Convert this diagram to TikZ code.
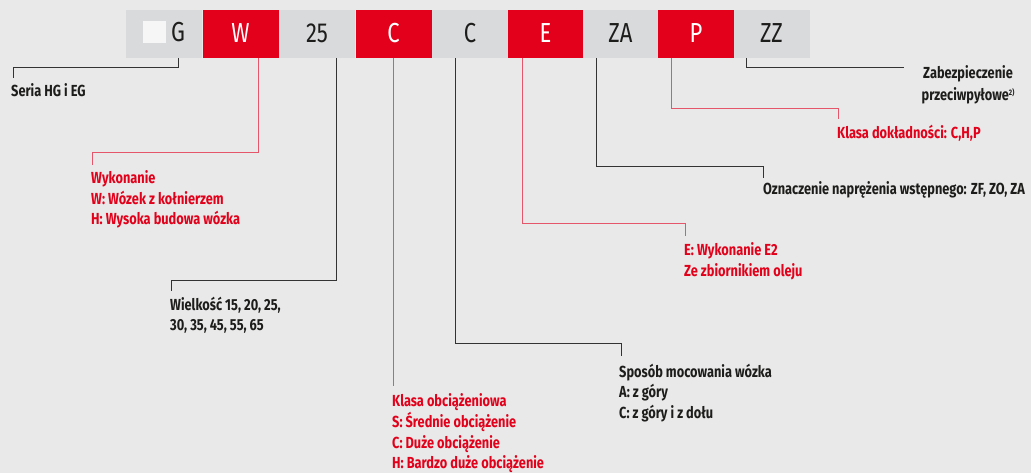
\documentclass[tikz,border=0pt]{standalone}
\usepackage{fontspec}
\setmainfont[FakeStretch=0.8]{Fira Sans}
\usetikzlibrary{calc}
\definecolor{bgc}{HTML}{E8E9E8}
\definecolor{boxgrey}{HTML}{D9DADC}
\definecolor{dinred}{HTML}{E2001A}
\definecolor{linered}{HTML}{E5566A}
\definecolor{txtblack}{HTML}{1D1D1B}
\definecolor{lineblack}{HTML}{333333}
\tikzset{
  codebox/.style={rectangle, inner sep=0pt, minimum width=76pt, minimum height=48pt,
    font=\fontsize{27.5}{30}\selectfont, text height=19pt, text depth=2.4pt},
  greybox/.style={codebox, fill=boxgrey, text=txtblack},
  redbox/.style={codebox, fill=dinred, text=white},
  lab/.style={inner sep=0pt, anchor=base west, font=\fontsize{16}{20.5}\selectfont\bfseries},
  blklab/.style={lab, text=txtblack},
  redlab/.style={lab, text=dinred},
  blkline/.style={draw=lineblack, line width=1pt},
  redline/.style={draw=linered, line width=1pt},
}
\newcommand{\rows}[1]{\begin{tabular}[t]{@{}l@{}}#1\end{tabular}}
\begin{document}
\begin{tikzpicture}[x=1pt,y=-1pt]
\fill[bgc] (0,0) rectangle (1031,473);
\useasboundingbox (0,0) rectangle (1031,473);
% code boxes
\node[greybox] (bG)  at (164,34)   {};
\node[redbox]  (bW)  at (240.5,34) {W};
\node[greybox] (b25) at (317,34)   {25};
\node[redbox]  (bCr) at (393.5,34) {C};
\node[greybox] (bCg) at (470,34)   {C};
\node[redbox]  (bE)  at (545.5,34) {E};
\node[greybox] (bZA) at (620.5,34) {ZA};
\node[redbox]  (bP)  at (696,34)   {P};
\node[greybox] (bZZ) at (771.5,34) {ZZ};
\node[rectangle, fill=white!60!bgc, inner sep=0pt, minimum width=23pt, minimum height=22pt] (sq) at (154.5,32) {};
\node[codebox, minimum width=0pt, minimum height=0pt, text=txtblack] (tG) at (178,33) {G};
% labels
\node[blklab] (seria) at (11,97) {\rows{Seria HG i EG}};
\node[redlab] (wyk) at (91,184) {\rows{Wykonanie\\W: Wózek z kołnierzem\\H: Wysoka budowa wózka}};
\node[blklab] (wiel) at (170,310) {\rows{Wielkość 15, 20, 25,\\30, 35, 45, 55, 65}};
\node[redlab] (klob) at (392,406.5) {\rows{Klasa obciążeniowa\\S: Średnie obciążenie\\C: Duże obciążenie\\H: Bardzo duże obciążenie}};
\node[blklab] (spos) at (619,377) {\rows{Sposób mocowania wózka\\A: z góry\\C: z góry i z dołu}};
\node[redlab] (ewyk) at (684,256) {\rows{E: Wykonanie E2\\Ze zbiornikiem oleju}};
\node[blklab] (ozn) at (763,195) {\rows{Oznaczenie naprężenia wstępnego: ZF, ZO, ZA}};
\node[redlab] (kldo) at (837,139) {\rows{Klasa dokładności: C,H,P}};
\node[blklab, anchor=base] (zab) at (968,78.5) {\begin{tabular}[t]{@{}c@{}}Zabezpieczenie\\[1.5pt]przeciwpyłowe\raisebox{5pt}{\fontsize{8}{9}\selectfont 2)}\end{tabular}};
% connectors
\draw[blkline] (tG |- bG.south) -- ++(0,9) -| ($(seria.north west)+(2,-4)$);
\draw[redline] ($(bW.south)+(18,0)$) -- ++(0,94) -| ($(wyk.north west)+(1,-4)$);
\draw[blkline] ($(b25.south)+(19,0)$) -- ++(0,222) -| ($(wiel.north west)+(1,-4)$);
\draw[redline] (bCr.south) -- (bCr.south |- {$(klob.north west)+(0,-6)$});
\draw[blkline] ($(bCg.south)+(-15,0)$) -- ++(0,285) -| ($(spos.north west)+(2,-6)$);
\draw[redline] ($(bE.south)+(-23.5,0)$) -- ++(0,165) -| ($(ewyk.north west)+(1,-5)$);
\draw[blkline] ($(bZA.south)+(-24.5,0)$) -- ++(0,108) -| ($(ozn.north west)+(0,-2.5)$);
\draw[redline] ($(bP.south)+(-25,0)$) -- ++(0,50) -| ($(kldo.north west)+(1,-5)$);
\draw[blkline] ($(bZZ.south)+(-25.5,0)$) |- ($(zab.north west)+(-17,4)$);
\end{tikzpicture}
\end{document}
